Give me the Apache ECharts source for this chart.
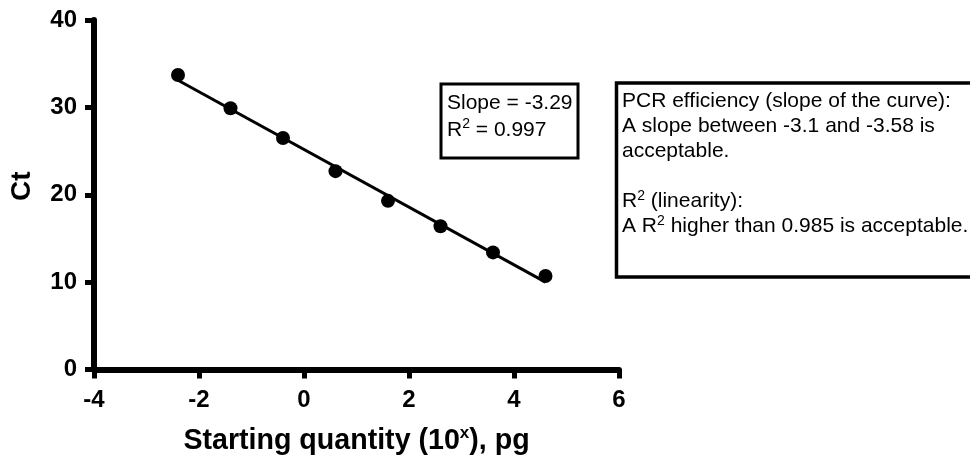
<!DOCTYPE html>
<html>
<head>
<meta charset="utf-8">
<script src="https://cdn.jsdelivr.net/npm/echarts@6/dist/echarts.min.js"></script>
<style>
  html, body { margin: 0; padding: 0; background: #fff; }
  #chart { width: 970px; height: 461px; }
</style>
</head>
<body>
<div id="chart"></div>
<script>
// standard curve: log starting quantity vs Ct
var logQuantity = [-2.4, -1.4, -0.4, 0.6, 1.6, 2.6, 3.6, 4.6];
var ctValues = [33.7, 29.9, 26.5, 22.7, 19.3, 16.4, 13.4, 10.7];

// regression line end points
var fitX = [-2.4, 4.6];
var fitY = [33.1, 10.0];

var xTicks = [-4, -2, 0, 2, 4, 6];
var yTicks = [0, 10, 20, 30, 40];

var FONT = '"Liberation Sans", Arial, Helvetica, sans-serif';

var chart = echarts.init(document.getElementById('chart'));

var points = logQuantity.map(function (x, i) { return [x, ctValues[i]]; });
var fitLine = fitX.map(function (x, i) { return [x, fitY[i]]; });

var axisCommon = {
  type: 'value',
  splitLine: { show: false },
  axisLine: { show: true, onZero: false, lineStyle: { color: '#000', width: 6 } },
  axisTick: { show: true, inside: false, length: 9, lineStyle: { color: '#000', width: 5 } },
  axisLabel: { color: '#000', fontFamily: FONT, fontWeight: 'bold', fontSize: 24 }
};

var option = {
  animation: false,
  backgroundColor: '#fff',
  grid: { left: 92, right: 351, top: 20, bottom: 90, containLabel: false },
  xAxis: echarts.util.merge({
    min: xTicks[0],
    max: xTicks[xTicks.length - 1],
    interval: 2,
    name: '{b|Starting quantity (10}{sup|x}{b|), pg}',
    nameLocation: 'middle',
    nameGap: 55,
    nameTextStyle: {
      rich: {
        b: { fontFamily: FONT, fontWeight: 'bold', fontSize: 28.6, color: '#000', lineHeight: 34 },
        sup: { fontFamily: FONT, fontWeight: 'bold', fontSize: 17, color: '#000', lineHeight: 23, verticalAlign: 'top' }
      }
    },
    axisLabel: { margin: 19 }
  }, axisCommon, false),
  yAxis: echarts.util.merge({
    min: yTicks[0],
    max: yTicks[yTicks.length - 1],
    interval: 10,
    name: 'Ct',
    nameLocation: 'middle',
    nameGap: 58,
    nameTextStyle: {
      fontFamily: FONT, fontWeight: 'bold', fontSize: 28, color: '#000',
      padding: [0, 0, 0, 17]
    },
    axisLabel: { margin: 17 }
  }, axisCommon, false),
  series: [
    {
      type: 'line',
      data: fitLine,
      showSymbol: false,
      lineStyle: { color: '#000', width: 3 },
      z: 2
    },
    {
      type: 'scatter',
      data: points,
      symbol: 'circle',
      symbolSize: 14,
      itemStyle: { color: '#000', opacity: 1 },
      z: 3
    }
  ],
  graphic: [
    {
      type: 'rect',
      shape: { x: 441, y: 84, width: 137, height: 74 },
      style: { fill: '#fff', stroke: '#000', lineWidth: 3 }
    },
    {
      type: 'text',
      x: 447, y: 90,
      style: {
        text: '{a|Slope = -3.29}\n{a|R}{s|2}{a| = 0.997}',
        rich: {
          a: { fontFamily: FONT, fontSize: 21, lineHeight: 27, fill: '#000' },
          s: { fontFamily: FONT, fontSize: 14, lineHeight: 22, verticalAlign: 'top', fill: '#000' }
        }
      }
    },
    {
      type: 'rect',
      shape: { x: 616.5, y: 83, width: 380, height: 194 },
      style: { fill: '#fff', stroke: '#000', lineWidth: 3.5 }
    },
    {
      type: 'text',
      x: 622, y: 89,
      style: {
        text: [
          '{a|PCR efficiency (slope of the curve):}',
          '{a|A slope between -3.1 and -3.58 is}',
          '{a|acceptable.}',
          '{a| }',
          '{a|R}{s|2}{a| (linearity):}',
          '{a|A R}{s|2}{a| higher than 0.985 is acceptable.}'
        ].join('\n'),
        rich: {
          a: { fontFamily: FONT, fontSize: 21, lineHeight: 25, fill: '#000' },
          s: { fontFamily: FONT, fontSize: 14, lineHeight: 20, verticalAlign: 'top', fill: '#000' }
        }
      }
    }
  ]
};

chart.setOption(option);
</script>
</body>
</html>
